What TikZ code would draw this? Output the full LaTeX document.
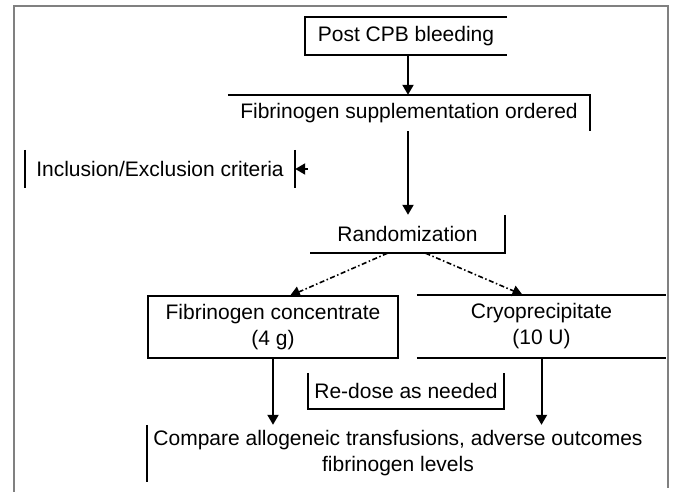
\documentclass[tikz,border=0pt]{standalone}
\usepackage{fontspec}
\setmainfont{Liberation Sans}
\usetikzlibrary{arrows.meta}

\begin{document}
\begin{tikzpicture}[x=1pt,y=-1pt]
\tikzset{every node/.style={font=\fontsize{21}{26}\selectfont, align=center, inner sep=2pt}}
\tikzset{side/.style={line width=2pt}, arr/.style={line width=2pt, -{Triangle[width=11pt,length=10pt]}}}
\tikzset{randarr/.style={line width=1.6pt, dash pattern=on 5pt off 2.5pt on 1.5pt off 2.5pt, -{Triangle[width=11pt,length=10pt]}}}

\useasboundingbox (0,0) rectangle (674,492);
\draw[gray, line width=1.2pt] (14,492) -- (14,6) -- (668,6) -- (668,488);

\node[minimum width=202pt, minimum height=38pt] (post) at (406,36) {Post CPB bleeding};
\node[minimum width=362pt, minimum height=36pt] (supp) at (409,113) {Fibrinogen supplementation ordered};
\node[minimum width=270pt, minimum height=38pt] (incl) at (160,169) {Inclusion/Exclusion criteria};
\node[minimum width=195pt, minimum height=38pt] (rand) at (407.5,234) {Randomization};
\node[minimum width=250pt, minimum height=62pt] (conc) at (273,327) {Fibrinogen concentrate\\(4 g)};
\node[minimum width=249pt, minimum height=63pt] (cryo) at (541.5,326.5) {Cryoprecipitate\\(10 U)};
\node[minimum width=196pt, minimum height=36pt] (redose) at (406,391) {Re-dose as needed};
\node[minimum width=502pt, minimum height=57pt] (cmp) at (398,453.5) {Compare allogeneic transfusions, adverse outcomes\\fibrinogen levels};
\coordinate (incltail) at (308,169);

\draw[side] (post.north east) -- (post.north west) -- (post.south west) -- (post.south east);
\draw[side] (supp.north west) -- (supp.north east) -- (supp.south east);
\draw[side] (incl.north west) -- (incl.south west) (incl.north east) -- (incl.south east);
\draw[side] (rand.north east) -- (rand.south east) -- (rand.south west);
\draw[side] (conc.north west) rectangle (conc.south east);
\draw[side] (cryo.north west) -- (cryo.north east) (cryo.south west) -- (cryo.south east);
\draw[side] (redose.north west) -- (redose.south west) -- (redose.south east) -- (redose.north east);
\draw[side] (cmp.north west) -- (cmp.south west);

\draw[arr] (post.south -| 408,0) -- (supp.north -| 408,0);
\draw[arr] (supp.south -| 408,0) -- (rand.north -| 408,0);
\draw[arr] (incltail) -- (incl.east);
\draw[randarr] ([xshift=-20pt]rand.south) -- ([xshift=17pt]conc.north);
\draw[randarr] ([xshift=18pt]rand.south) -- ([xshift=-19pt]cryo.north);
\draw[arr] (conc.south) -- (conc.south |- cmp.north);
\draw[arr] (cryo.south) -- (cryo.south |- cmp.north);

\end{tikzpicture}
\end{document}
